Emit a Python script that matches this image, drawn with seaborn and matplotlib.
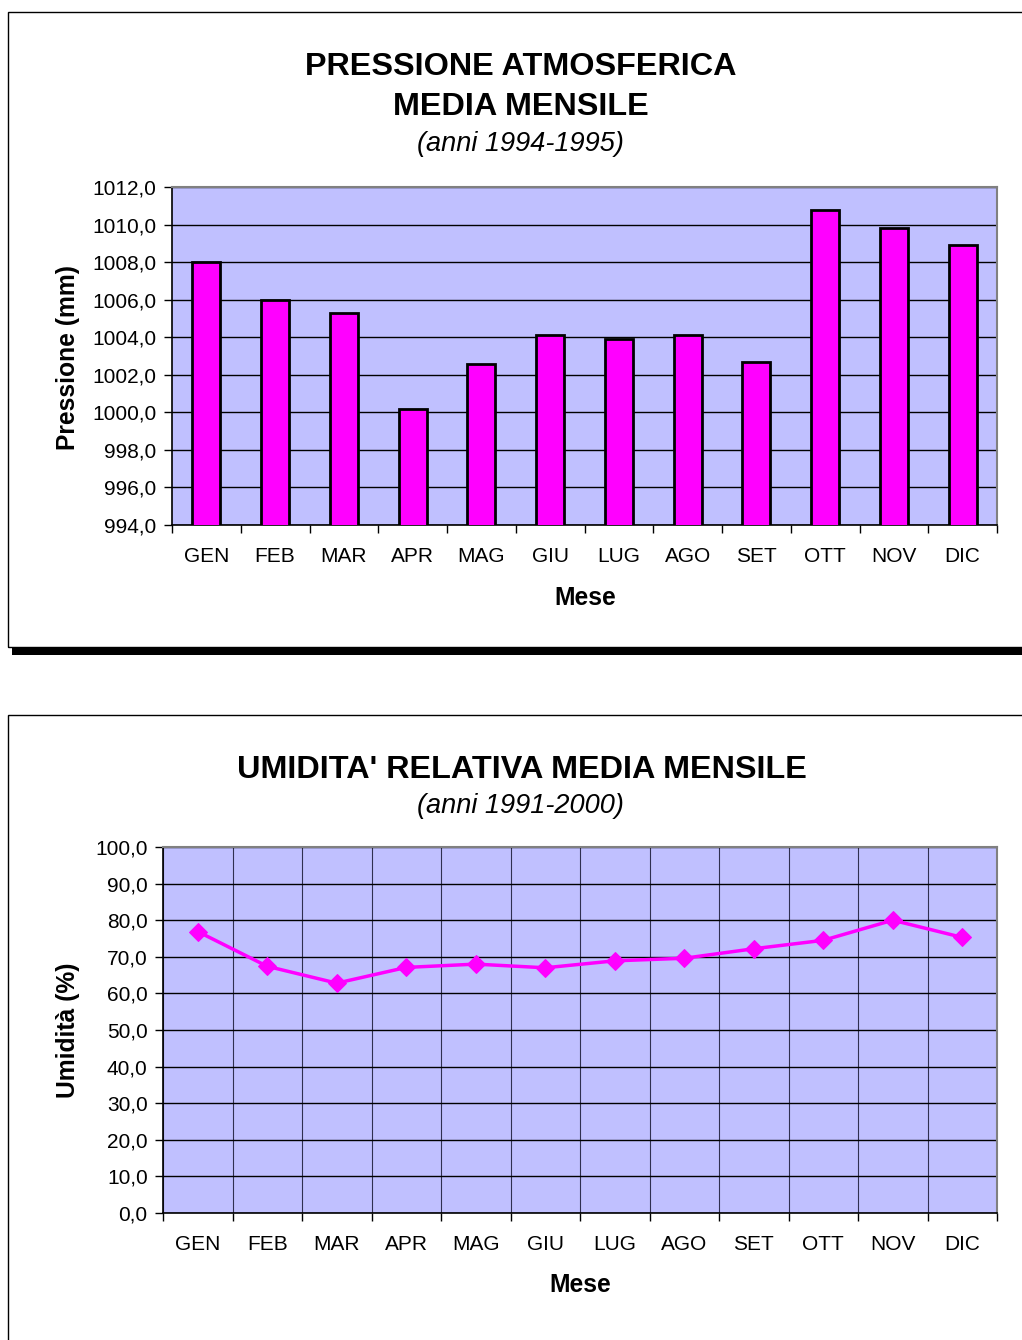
import numpy as np
import pandas as pd
import matplotlib
matplotlib.use("Agg")
import matplotlib.pyplot as plt
import matplotlib.patches as patches
from matplotlib.ticker import FuncFormatter, FixedLocator
import seaborn as sns

months = ["GEN", "FEB", "MAR", "APR", "MAG", "GIU", "LUG", "AGO", "SET", "OTT", "NOV", "DIC"]
pressione = [1008.0, 1006.0, 1005.3, 1000.2, 1002.6, 1004.1, 1003.9, 1004.1, 1002.7, 1010.8, 1009.8, 1008.9]
umidita = [76.9, 67.4, 62.8, 67.1, 68.0, 67.0, 68.9, 69.6, 72.2, 74.5, 80.0, 75.3]

sns.set_theme(style="white")
plt.rcParams['font.family'] = ['Liberation Sans', 'DejaVu Sans']
plt.rcParams['text.color'] = 'black'
plt.rcParams['axes.labelcolor'] = 'black'
plt.rcParams['xtick.color'] = 'black'
plt.rcParams['ytick.color'] = 'black'

W, H = 1022, 1340
fig = plt.figure(figsize=(W / 100, H / 100), dpi=100)
fig.patch.set_facecolor("white")

def fx(x):
    return x / W

def fy(y):
    return 1 - y / H

BG = "#C0C0FF"
MAG = "#FF00FF"

def comma_fmt(v, pos):
    return f"{v:.1f}".replace(".", ",")

def style_axes(ax):
    ax.set_facecolor(BG)
    for s in ["top", "right"]:
        ax.spines[s].set_color("#808080")
        ax.spines[s].set_linewidth(1.5)
    for s in ["left", "bottom"]:
        ax.spines[s].set_color("black")
        ax.spines[s].set_linewidth(1.2)
    ax.set_xlim(-0.5, 11.5)
    ax.xaxis.set_major_locator(FixedLocator(np.arange(-0.5, 12, 1)))
    ax.xaxis.set_minor_locator(FixedLocator(np.arange(12)))
    ax.set_xticklabels([], minor=False)
    ax.set_xticklabels(months, minor=True)
    ax.tick_params(axis="x", which="major", direction="out", length=6, width=1, color="black", bottom=True)
    ax.tick_params(axis="x", which="minor", length=0, pad=16, labelsize=15, labelcolor="black")
    ax.tick_params(axis="y", which="major", direction="out", length=6, width=1, color="black", left=True,
                   labelsize=15, pad=5, labelcolor="black")
    ax.yaxis.set_major_formatter(FuncFormatter(comma_fmt))
    ax.set_xlabel("")
    ax.set_ylabel("")

# ---------- Panels ----------
fig.patches.append(patches.Rectangle((fx(8), fy(647)), fx(1040) - fx(8), fy(12) - fy(647),
                                     transform=fig.transFigure, fill=False, edgecolor="black", lw=1))
fig.patches.append(patches.Rectangle((fx(12), fy(655)), fx(1040) - fx(12), fy(648) - fy(655),
                                     transform=fig.transFigure, facecolor="black", edgecolor="none"))
fig.patches.append(patches.Rectangle((fx(8), fy(1360)), fx(1040) - fx(8), fy(715) - fy(1360),
                                     transform=fig.transFigure, fill=False, edgecolor="black", lw=1))

# ---------- Top chart ----------
ax1 = fig.add_axes([fx(172), fy(525), fx(997) - fx(172), fy(187) - fy(525)])
df1 = pd.DataFrame({"Mese": months, "Pressione": pressione})
sns.barplot(data=df1, x="Mese", y="Pressione", ax=ax1, color=MAG, saturation=1,
            edgecolor="black", linewidth=2, width=0.41, zorder=3)
ax1.set_ylim(994, 1012)
ax1.set_yticks(np.arange(994, 1013, 2))
style_axes(ax1)
ax1.grid(axis="y", color="black", linewidth=1, zorder=1)
ax1.grid(axis="x", visible=False)
ax1.set_axisbelow(True)

fig.text(fx(521), fy(67), "PRESSIONE ATMOSFERICA", ha="center", va="center",
         fontsize=23.3, fontweight="bold")
fig.text(fx(521), fy(107), "MEDIA MENSILE", ha="center", va="center",
         fontsize=23.3, fontweight="bold")
fig.text(fx(520), fy(144), "(anni 1994-1995)", ha="center", va="center",
         fontsize=19.5, fontstyle="italic")
fig.text(fx(68), fy(357), "Pressione (mm)", ha="center", va="center", rotation=90,
         fontsize=17.7, fontweight="bold")
fig.text(fx(585), fy(598), "Mese", ha="center", va="center", fontsize=17.7, fontweight="bold")

# ---------- Bottom chart ----------
ax2 = fig.add_axes([fx(163), fy(1213), fx(997) - fx(163), fy(847) - fy(1213)])
df2 = pd.DataFrame({"idx": np.arange(12), "Umidita": umidita})
sns.lineplot(data=df2, x="idx", y="Umidita", ax=ax2, color=MAG, linewidth=2.5,
             marker="D", markersize=9, markeredgecolor=MAG, zorder=3)
ax2.set_ylim(0, 100)
ax2.set_yticks(np.arange(0, 101, 10))
style_axes(ax2)
ax2.grid(axis="y", which="major", color="black", linewidth=1, zorder=1)
ax2.grid(axis="x", which="major", color="#303050", linewidth=0.8, zorder=1)
ax2.grid(axis="x", which="minor", visible=False)
ax2.set_axisbelow(True)

fig.text(fx(522), fy(770), "UMIDITA' RELATIVA MEDIA MENSILE", ha="center", va="center",
         fontsize=23.3, fontweight="bold")
fig.text(fx(520), fy(806), "(anni 1991-2000)", ha="center", va="center",
         fontsize=19.5, fontstyle="italic")
fig.text(fx(68), fy(1030), "Umidità (%)", ha="center", va="center", rotation=90,
         fontsize=17.7, fontweight="bold")
fig.text(fx(580), fy(1285), "Mese", ha="center", va="center", fontsize=17.7, fontweight="bold")

fig.savefig("out.png", dpi=100, facecolor="white")
